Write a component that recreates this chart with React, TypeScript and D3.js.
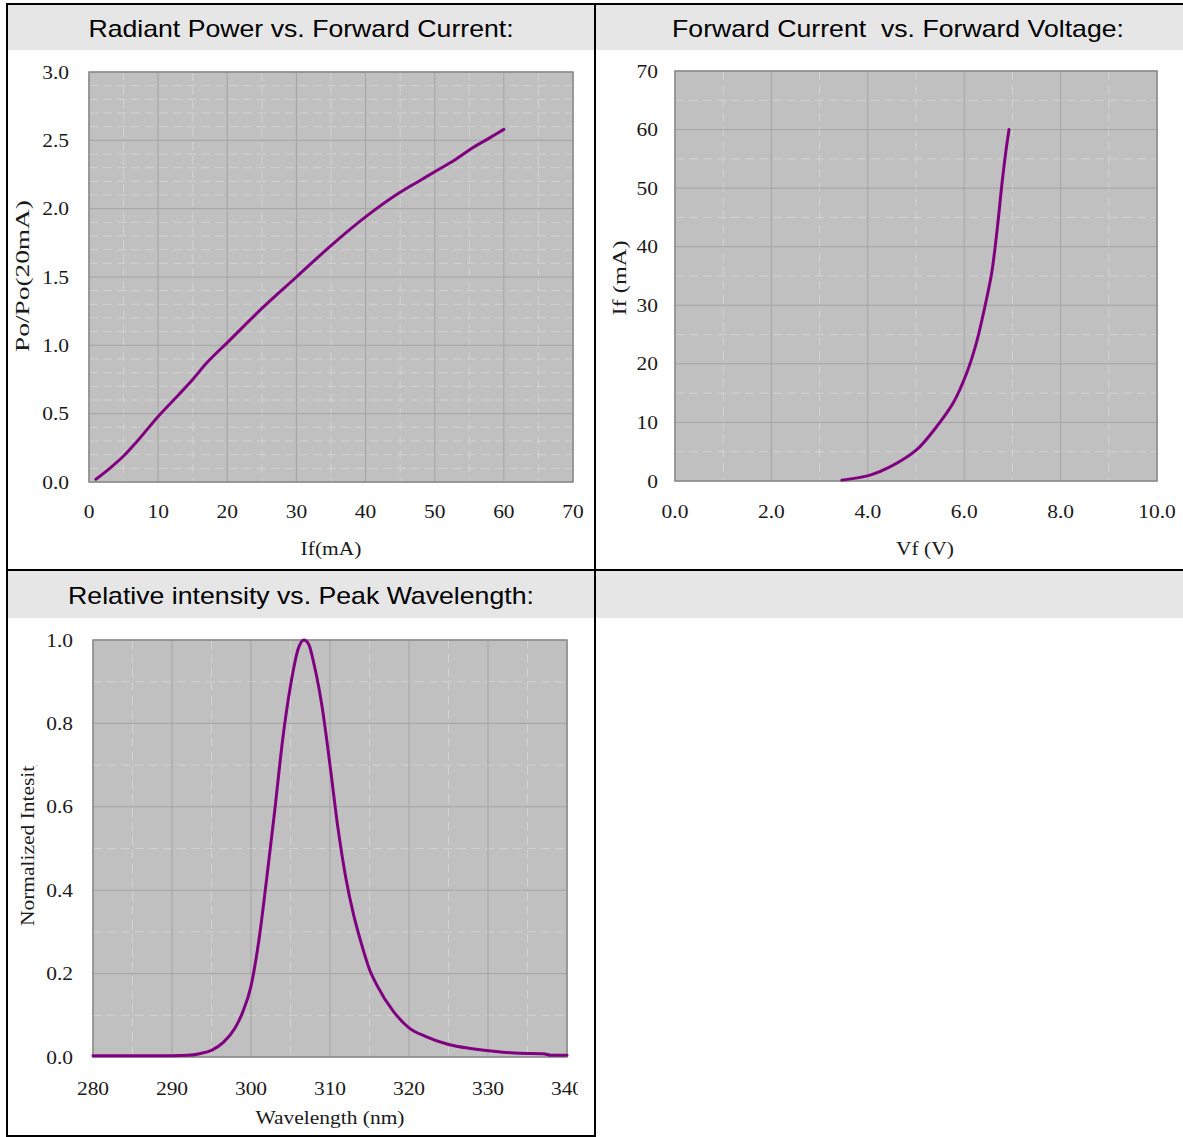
import React from "react";
import * as d3 from "d3";

// Radiant power vs forward current
const powerCurrent = [1, 3, 5, 7, 10, 13, 15, 17, 20, 25, 30, 35, 40, 45, 48, 50, 53, 55, 58, 60];
const powerRatio = [0.02, 0.1, 0.19, 0.3, 0.48, 0.64, 0.75, 0.87, 1.02, 1.27, 1.5, 1.73, 1.94, 2.12, 2.21, 2.27, 2.36, 2.43, 2.52, 2.58];

// Forward current vs forward voltage
const fwdVoltage = [3.46, 4.05, 4.46, 5.01, 5.43, 5.77, 6.05, 6.25, 6.43, 6.57, 6.69, 6.78, 6.86, 6.93];
const fwdCurrent = [0.15, 1.0, 2.4, 5.3, 9.3, 13.3, 18.4, 23.5, 29.8, 35.5, 43.4, 50.5, 56, 60];

// Relative intensity vs wavelength
const wavelength = [280, 285, 290, 292, 293.5, 295, 296.5, 298, 299, 300, 301, 302, 303, 304, 305, 306, 306.7, 307.3, 308, 309, 310, 311, 312, 313, 314, 315, 316, 318, 320, 322, 325, 328, 331, 334, 337, 338, 340];
const intensity = [0.003, 0.003, 0.003, 0.004, 0.008, 0.016, 0.035, 0.07, 0.11, 0.17, 0.28, 0.43, 0.59, 0.76, 0.89, 0.98, 1.0, 0.99, 0.94, 0.84, 0.7, 0.55, 0.43, 0.34, 0.27, 0.21, 0.17, 0.11, 0.07, 0.05, 0.03, 0.02, 0.013, 0.009, 0.008, 0.004, 0.004];

const titles = [
  "Radiant Power vs. Forward Current:",
  "Forward Current  vs. Forward Voltage:",
  "Relative intensity vs. Peak Wavelength:",
];

const ticksA_x = [0, 10, 20, 30, 40, 50, 60, 70];
const ticksA_y = [0, 0.5, 1, 1.5, 2, 2.5, 3];
const ticksB_x = [0, 2, 4, 6, 8, 10];
const ticksB_y = [0, 10, 20, 30, 40, 50, 60, 70];
const ticksC_x = [280, 290, 300, 310, 320, 330, 340];
const ticksC_y = [0, 0.2, 0.4, 0.6, 0.8, 1.0];

const SX = 1.13;
const SERIF = "'Liberation Serif', 'Times New Roman', serif";
const SANS = "'Liberation Sans', Arial, sans-serif";
const PURPLE = "#800080";

// keep double spaces visible in svg text
const keepSpaces = (s: string) => s.replace(/  /g, " \u00A0");

function Panel(p: any) {
  const x = d3.scaleLinear().domain(p.xDomain).range([p.x0, p.x1]);
  const y = d3.scaleLinear().domain(p.yDomain).range([p.y1, p.y0]);
  const minor = (dom: number[], step: number, major: number[]) =>
    d3.range(dom[0], dom[1] + step / 2, step).filter((v) => !major.some((m) => Math.abs(m - v) < step / 10));
  const xMinor = minor(p.xDomain, p.xMinorStep, p.xTicks);
  const yMinor = minor(p.yDomain, p.yMinorStep, p.yTicks);
  const line = d3
    .line<number>()
    .x((_, i) => x(p.xs[i]))
    .y((_, i) => y(p.ys[i]))
    .curve(p.curve || d3.curveMonotoneX);
  const fx = d3.format(p.xFmt);
  const fy = d3.format(p.yFmt);
  return (
    <g>
      <rect x={p.x0} y={p.y0} width={p.x1 - p.x0} height={p.y1 - p.y0} fill="#c0c0c0" />
      {yMinor.map((v) => (
        <line key={"ym" + v} x1={p.x0} x2={p.x1} y1={y(v)} y2={y(v)} stroke="#d2d2d2" strokeDasharray="9,5" />
      ))}
      {xMinor.map((v) => (
        <line key={"xm" + v} x1={x(v)} x2={x(v)} y1={p.y0} y2={p.y1} stroke="#d2d2d2" strokeDasharray="9,5" />
      ))}
      {p.yTicks.map((v: number) => (
        <line key={"yg" + v} x1={p.x0} x2={p.x1} y1={y(v)} y2={y(v)} stroke="#a4a4a4" />
      ))}
      {p.xTicks.map((v: number) => (
        <line key={"xg" + v} x1={x(v)} x2={x(v)} y1={p.y0} y2={p.y1} stroke="#a4a4a4" />
      ))}
      <rect x={p.x0} y={p.y0} width={p.x1 - p.x0} height={p.y1 - p.y0} fill="none" stroke="#8a8a8a" strokeWidth={1.5} />
      <path d={line(p.xs) || ""} fill="none" stroke={PURPLE} strokeWidth={3} strokeLinejoin="round" strokeLinecap="round" />
      <g fontFamily={SERIF} fontSize={19} fill="#1a1a1a" clipPath={p.clipId ? `url(#${p.clipId})` : undefined}>
        {p.xTicks.map((v: number) => (
          <text key={"xl" + v} transform={`translate(${x(v)},${p.xLabelY}) scale(${SX},1)`} textAnchor="middle">
            {fx(v)}
          </text>
        ))}
      </g>
      <g fontFamily={SERIF} fontSize={19} fill="#1a1a1a">
        {p.yTicks.map((v: number) => (
          <text key={"yl" + v} transform={`translate(${p.x0 - p.yLabelGap},${y(v) + 6.5}) scale(${SX},1)`} textAnchor="end">
            {fy(v)}
          </text>
        ))}
        <text transform={`translate(${p.xTitleX},${p.xTitleY}) scale(${SX},1)`} textAnchor="middle">
          {p.xTitle}
        </text>
        <g clipPath={p.yTitleClip ? `url(#${p.yTitleClip})` : undefined}>
          <text
            transform={`translate(${p.yTitleX},${p.yTitleY}) rotate(-90)`}
            textAnchor={p.yTitleAnchor}
            textLength={p.yTitleLen}
            lengthAdjust="spacingAndGlyphs"
          >
            {p.yTitle}
          </text>
        </g>
      </g>
    </g>
  );
}

export default function App() {
  const W = 1183;
  const H = 1137;
  const colL = 7;
  const colM = 595;
  const colR = 1201;
  const rowT = 4;
  const rowM = 570;
  const rowB = 1136;
  return (
    <svg width={W} height={H} style={{ position: "absolute", left: 0, top: 0, background: "#fff" }}>
      <defs>
        <clipPath id="clipC">
          <rect x={0} y={0} width={578} height={H} />
        </clipPath>
        <clipPath id="clipCy">
          <rect x={0} y={765} width={80} height={300} />
        </clipPath>
      </defs>
      {/* header bands */}
      <rect x={colL} y={rowT} width={colR - colL} height={46} fill="#e6e6e6" />
      <rect x={colL} y={rowM} width={colR - colL} height={48} fill="#e6e6e6" />
      <g fontFamily={SANS} fontSize={23.6} fill="#000">
        <text transform={`translate(${(colL + colM) / 2},37) scale(${SX},1)`} textAnchor="middle">
          {keepSpaces(titles[0])}
        </text>
        <text transform={`translate(${(colM + colR) / 2},37) scale(${SX},1)`} textAnchor="middle">
          {keepSpaces(titles[1])}
        </text>
        <text transform={`translate(${(colL + colM) / 2},604) scale(${SX},1)`} textAnchor="middle">
          {keepSpaces(titles[2])}
        </text>
      </g>

      <Panel
        x0={89} x1={573} y0={72} y1={482}
        xDomain={[0, 70]} yDomain={[0, 3]}
        xTicks={ticksA_x} yTicks={ticksA_y}
        xMinorStep={5} yMinorStep={0.1}
        xFmt="d" yFmt=".1f"
        xs={powerCurrent} ys={powerRatio}
        xLabelY={518} yLabelGap={20}
        xTitle="If(mA)" xTitleX={331} xTitleY={555}
        yTitle="Po/Po(20mA)" yTitleX={29} yTitleY={276} yTitleAnchor="middle" yTitleLen={152}
      />
      <Panel
        x0={675} x1={1157} y0={71} y1={481}
        xDomain={[0, 10]} yDomain={[0, 70]}
        xTicks={ticksB_x} yTicks={ticksB_y}
        xMinorStep={1} yMinorStep={5}
        xFmt=".1f" yFmt="d"
        xs={fwdVoltage} ys={fwdCurrent}
        curve={d3.curveCatmullRom.alpha(0.5)}
        xLabelY={518} yLabelGap={17}
        xTitle="Vf (V)" xTitleX={925} xTitleY={555}
        yTitle="If (mA)" yTitleX={626} yTitleY={278} yTitleAnchor="middle" yTitleLen={75}
      />
      <Panel
        x0={93} x1={567} y0={640} y1={1057}
        xDomain={[280, 340]} yDomain={[0, 1]}
        xTicks={ticksC_x} yTicks={ticksC_y}
        xMinorStep={5} yMinorStep={0.1}
        xFmt="d" yFmt=".1f"
        xs={wavelength} ys={intensity}
        xLabelY={1095} yLabelGap={20}
        clipId="clipC"
        xTitle="Wavelength (nm)" xTitleX={330} xTitleY={1124}
        yTitle="Normalized Intesity" yTitleX={34} yTitleY={926} yTitleAnchor="start" yTitleLen={171}
        yTitleClip="clipCy"
      />

      {/* table borders */}
      <g stroke="#000" strokeWidth={2}>
        <line x1={colL - 1} x2={colR} y1={rowT} y2={rowT} />
        <line x1={colL - 1} x2={colR} y1={rowM} y2={rowM} />
        <line x1={colL - 1} x2={colM + 1} y1={rowB} y2={rowB} />
        <line x1={colL} x2={colL} y1={rowT - 1} y2={rowB + 1} />
        <line x1={colM} x2={colM} y1={rowT - 1} y2={rowB + 1} />
      </g>
    </svg>
  );
}
